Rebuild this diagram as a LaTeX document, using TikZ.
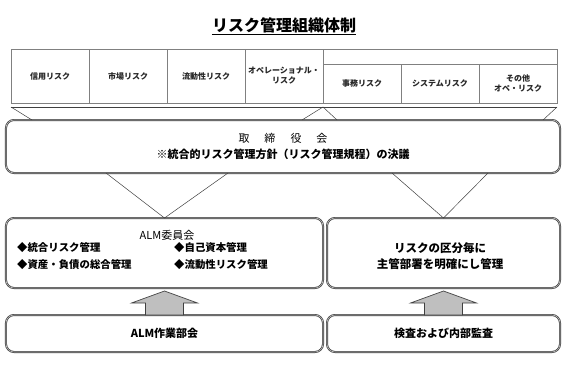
\documentclass[tikz,border=0pt]{standalone}
\usepackage{fontspec}
\setmainfont{Noto Sans CJK JP}
\usetikzlibrary{positioning, calc}
\definecolor{lcolor}{HTML}{404040}
\definecolor{tcolor}{HTML}{808080}
\definecolor{acolor}{HTML}{BFBFBF}

\begin{document}
\begin{tikzpicture}[x=1bp, y=-1bp,
    riskcell/.style={rectangle, draw=tcolor, line width=0.6bp, outer sep=0pt, inner sep=1bp, minimum width=78bp, align=center, text=black!85, font=\fontsize{8bp}{10bp}\selectfont\bfseries},
    panel/.style={rectangle, draw=lcolor, double=acolor, double distance=0.6bp, line width=0.7bp, rounded corners=8bp, outer sep=0pt, align=center},
    funnel/.style={draw=lcolor, line width=0.5bp},
    fat/.style={draw=lcolor, fill=acolor, line width=0.7bp, line join=miter},
    bul/.style={anchor=west, inner sep=0pt, font=\fontsize{10.4bp}{12bp}\selectfont\bfseries},
    txt/.style={font=\fontsize{11.5bp}{16bp}\selectfont\bfseries, align=center},
  ]
  \useasboundingbox (0,0) rectangle (567,366);

  % title
  \node[inner sep=0pt, font=\fontsize{16bp}{18bp}\selectfont\bfseries] (title) at (284,25) {リスク管理組織体制};
  \draw[line width=0.9bp] ($(title.base west)+(0,3)$) -- ($(title.base east)+(0,3)$);

  % risk categories
  \node[riskcell, minimum height=54bp] (credit) at (50,76) {信用リスク};
  \node[riskcell, minimum height=54bp, right=0pt of credit] (market) {市場リスク};
  \node[riskcell, minimum height=54bp, right=0pt of market] (liquid) {流動性リスク};
  \node[riskcell, minimum height=54bp, right=0pt of liquid] (oper) {オペレーショナル・\\リスク};
  \node[riskcell, minimum height=39bp, anchor=south west] (clerk) at (oper.south east) {事務リスク};
  \node[riskcell, minimum height=39bp, right=0pt of clerk] (system) {システムリスク};
  \node[riskcell, minimum height=39bp, right=0pt of system] (other) {その他\\オペ・リスク};
  \node[riskcell, minimum width=234bp, minimum height=15bp, anchor=south west] (opertop) at (clerk.north west) {};

  % board
  \node[panel, minimum width=554bp, minimum height=53bp, font=\fontsize{11bp}{16bp}\selectfont] (board) at (283,146.5)
    {取\hspace{15bp}締\hspace{15bp}役\hspace{15bp}会\\{\bfseries ※統合的リスク管理方針（リスク管理規程）の決議}};

  % funnels into the board
  \coordinate (fl) at ($(credit.south west)+(0,4)$);
  \coordinate (fm) at ($(oper.south east)+(0,4)$);
  \coordinate (fr) at ($(other.south east)+(0,4)$);
  \draw[funnel] (fl) -- (fr);
  \draw[funnel] (fl) -- ($(fl)+(21,13)$);
  \draw[funnel] ($(fm)+(-21,13)$) -- (fm) -- ($(fm)+(14,13)$);
  \draw[funnel] ($(fr)+(-14,13)$) -- (fr);

  % committees
  \node[panel, minimum width=317bp, minimum height=70bp] (alm) at (164.5,253) {};
  \node[panel, minimum width=233bp, minimum height=70bp] (side) at (443.5,253) {};
  \node[inner sep=0pt, font=\fontsize{11bp}{13bp}\selectfont] (almt) at (167,235) {ALM委員会};
  \node[bul] (b1) at (17,248) {◆統合リスク管理};
  \node[bul] (b2) at (174,248) {◆自己資本管理};
  \node[bul] (b3) at (17,265) {◆資産・負債の総合管理};
  \node[bul] (b4) at (174,265) {◆流動性リスク管理};
  \node[txt, inner sep=0pt] (sidet) at (440,256) {リスクの区分毎に\\主管部署を明確にし管理};

  \draw[funnel] ($(board.south)+(-177,0)$) -- (alm.north) -- ($(board.south)+(-55,0)$);
  \draw[funnel] ($(board.south)+(109,0)$) -- (side.north) -- ($(board.south)+(205,0)$);

  % working groups
  \node[panel, minimum width=317bp, minimum height=37bp, txt, font=\fontsize{11bp}{13bp}\selectfont\bfseries] (wg) at (164.5,333.5) {ALM作業部会};
  \node[panel, minimum width=233bp, minimum height=37bp, txt, font=\fontsize{11bp}{13bp}\selectfont\bfseries] (audit) at (443.5,333.5) {検査および内部監査};

  \draw[fat] ($(wg.north)+(-19,0)$) -- ++(0,-12) -- ++(-14,0) -- ($(alm.south)+(0,3)$)
    -- ($(wg.north)+(33,-12)$) -- ++(-14,0) -- ($(wg.north)+(19,0)$) -- cycle;
  \draw[fat] ($(audit.north)+(-19,0)$) -- ++(0,-12) -- ++(-14,0) -- ($(side.south)+(0,3)$)
    -- ($(audit.north)+(33,-12)$) -- ++(-14,0) -- ($(audit.north)+(19,0)$) -- cycle;
\end{tikzpicture}
\end{document}
